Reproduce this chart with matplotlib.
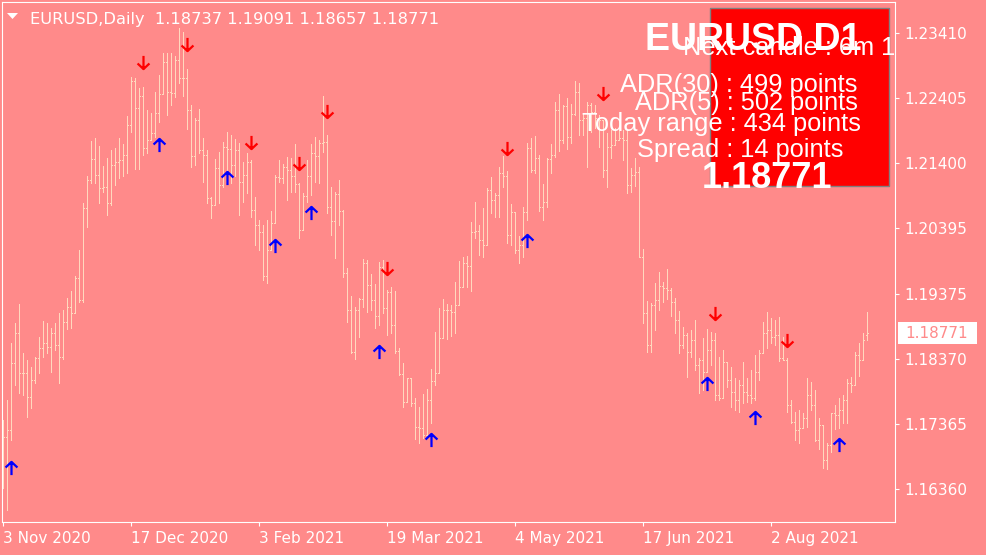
import matplotlib
matplotlib.use("Agg")
import matplotlib.pyplot as plt
import numpy as np
from matplotlib.patches import Rectangle, Polygon
from matplotlib.path import Path
from matplotlib.transforms import blended_transform_factory

W, H = 987, 555
BG = "#FF8A8A"
BAR_COLOR = "#FFD9BE"
UP_COLOR = "#0000FF"
DOWN_COLOR = "#FF0000"

SYMBOL = "EURUSD"
PERIOD = "Daily"

# ── daily OHLC, 3 Nov 2020 .. 3 Sep 2021 (one bar per trading day) ───────────
opens = [
    1.1665, 1.1716, 1.1727, 1.1831, 1.1877, 1.1815, 1.1815, 1.1778, 1.1805, 1.1838,
    1.1854, 1.1862, 1.1856, 1.1877, 1.1859, 1.1840, 1.1894, 1.1917, 1.1908, 1.1962,
    1.1928, 1.2070, 1.2114, 1.2146, 1.2121, 1.2101, 1.2103, 1.2078, 1.2137, 1.2142,
    1.2145, 1.2152, 1.2199, 1.2267, 1.2225, 1.2244, 1.2163, 1.2176, 1.2186, 1.2217,
    1.2247, 1.2296, 1.2250, 1.2248, 1.2299, 1.2271, 1.2271, 1.2222, 1.2151, 1.2207,
    1.2160, 1.2152, 1.2086, 1.2075, 1.2132, 1.2106, 1.2165, 1.2162, 1.2137, 1.2160,
    1.2111, 1.2121, 1.2142, 1.2067, 1.2044, 1.2033, 1.1965, 1.2005, 1.2047, 1.2118,
    1.2117, 1.2134, 1.2129, 1.2120, 1.2108, 1.2036, 1.2089, 1.2120, 1.2155, 1.2151,
    1.2171, 1.2172, 1.2072, 1.2050, 1.2092, 1.2066, 1.1970, 1.1913, 1.1848, 1.1913,
    1.1930, 1.1985, 1.1951, 1.1928, 1.1903, 1.1979, 1.1916, 1.1941, 1.1890, 1.1849,
    1.1814, 1.1770, 1.1808, 1.1769, 1.1732, 1.1730, 1.1720, 1.1774, 1.1803, 1.1815,
    1.1869, 1.1913, 1.1913, 1.1910, 1.1920, 1.1948, 1.1985, 1.1981, 1.2033, 1.2035,
    1.2021, 1.2013, 1.2098, 1.2083, 1.2091, 1.2125, 1.2120, 1.2029, 1.2064, 1.2005,
    1.2013, 1.2064, 1.2163, 1.2129, 1.2148, 1.2072, 1.2080, 1.2146, 1.2152, 1.2222,
    1.2176, 1.2228, 1.2180, 1.2216, 1.2250, 1.2207, 1.2210, 1.2230, 1.2219, 1.2210,
    1.2207, 1.2129, 1.2165, 1.2168, 1.2176, 1.2179, 1.2176, 1.2106, 1.2121, 1.2126,
    1.1995, 1.1908, 1.1859, 1.1920, 1.1928, 1.1950, 1.1947, 1.1944, 1.1925, 1.1897,
    1.1859, 1.1874, 1.1848, 1.1866, 1.1828, 1.1835, 1.1817, 1.1851, 1.1866, 1.1781,
    1.1777, 1.1832, 1.1805, 1.1786, 1.1774, 1.1797, 1.1786, 1.1781, 1.1777, 1.1817,
    1.1846, 1.1877, 1.1882, 1.1871, 1.1874, 1.1838, 1.1835, 1.1766, 1.1740, 1.1727,
    1.1730, 1.1746, 1.1781, 1.1766, 1.1712, 1.1735, 1.1681, 1.1704, 1.1753, 1.1750,
    1.1758, 1.1774, 1.1800, 1.1797, 1.1843, 1.1835, 1.18737,
]
highs = [
    1.1743, 1.1774, 1.1862, 1.1893, 1.1922, 1.1846, 1.1835, 1.1825, 1.1840, 1.1871,
    1.1896, 1.1893, 1.1885, 1.1893, 1.1908, 1.1913, 1.1931, 1.1942, 1.1965, 1.2005,
    1.2078, 1.2120, 1.2174, 1.2179, 1.2166, 1.2135, 1.2148, 1.2160, 1.2163, 1.2179,
    1.2169, 1.2213, 1.2273, 1.2271, 1.2256, 1.2257, 1.2222, 1.2217, 1.2250, 1.2276,
    1.2310, 1.2310, 1.2310, 1.2305, 1.2349, 1.2343, 1.2285, 1.2230, 1.2210, 1.2223,
    1.2179, 1.2160, 1.2087, 1.2146, 1.2157, 1.2172, 1.2188, 1.2183, 1.2177, 1.2171,
    1.2142, 1.2155, 1.2145, 1.2087, 1.2052, 1.2044, 1.2052, 1.2066, 1.2121, 1.2145,
    1.2138, 1.2149, 1.2148, 1.2169, 1.2109, 1.2094, 1.2145, 1.2169, 1.2180, 1.2176,
    1.2244, 1.2183, 1.2103, 1.2095, 1.2114, 1.2067, 1.1978, 1.1934, 1.1917, 1.1931,
    1.1992, 1.1990, 1.1968, 1.1953, 1.1987, 1.1990, 1.1944, 1.1948, 1.1942, 1.1854,
    1.1831, 1.1808, 1.1808, 1.1777, 1.1763, 1.1783, 1.1791, 1.1821, 1.1879, 1.1916,
    1.1930, 1.1922, 1.1920, 1.1956, 1.1989, 1.1995, 1.1996, 1.2049, 1.2080, 1.2044,
    1.2070, 1.2101, 1.2118, 1.2094, 1.2134, 1.2151, 1.2128, 1.2077, 1.2064, 1.2027,
    1.2072, 1.2171, 1.2179, 1.2182, 1.2152, 1.2108, 1.2148, 1.2169, 1.2234, 1.2247,
    1.2230, 1.2240, 1.2231, 1.2267, 1.2264, 1.2217, 1.2234, 1.2233, 1.2230, 1.2214,
    1.2207, 1.2186, 1.2191, 1.2194, 1.2203, 1.2191, 1.2191, 1.2132, 1.2148, 1.2134,
    1.2007, 1.1927, 1.1924, 1.1955, 1.1971, 1.1956, 1.1976, 1.1947, 1.1931, 1.1911,
    1.1886, 1.1877, 1.1882, 1.1897, 1.1839, 1.1869, 1.1883, 1.1879, 1.1877, 1.1840,
    1.1851, 1.1832, 1.1825, 1.1808, 1.1805, 1.1832, 1.1808, 1.1820, 1.1843, 1.1851,
    1.1894, 1.1910, 1.1900, 1.1897, 1.1902, 1.1871, 1.1839, 1.1774, 1.1755, 1.1758,
    1.1753, 1.1808, 1.1801, 1.1789, 1.1746, 1.1735, 1.1707, 1.1753, 1.1766, 1.1777,
    1.1781, 1.1806, 1.1809, 1.1848, 1.1862, 1.1877, 1.19091,
]
lows = [
    1.1638, 1.1604, 1.1712, 1.1797, 1.1784, 1.1781, 1.1747, 1.1761, 1.1800, 1.1815,
    1.1840, 1.1846, 1.1817, 1.1851, 1.1800, 1.1837, 1.1883, 1.1885, 1.1908, 1.1925,
    1.1925, 1.2041, 1.2109, 1.2109, 1.2078, 1.2095, 1.2060, 1.2075, 1.2106, 1.2117,
    1.2120, 1.2125, 1.2188, 1.2131, 1.2131, 1.2152, 1.2155, 1.2176, 1.2180, 1.2203,
    1.2247, 1.2214, 1.2230, 1.2242, 1.2264, 1.2244, 1.2193, 1.2134, 1.2137, 1.2155,
    1.2111, 1.2078, 1.2055, 1.2075, 1.2078, 1.2103, 1.2126, 1.2109, 1.2120, 1.2060,
    1.2080, 1.2094, 1.2057, 1.2013, 1.2005, 1.1959, 1.1955, 1.2005, 1.2047, 1.2111,
    1.2109, 1.2083, 1.2095, 1.2095, 1.2024, 1.2036, 1.2080, 1.2091, 1.2111, 1.2109,
    1.2157, 1.2063, 1.2029, 1.1993, 1.2044, 1.1964, 1.1894, 1.1846, 1.1837, 1.1871,
    1.1917, 1.1910, 1.1913, 1.1885, 1.1890, 1.1908, 1.1874, 1.1877, 1.1846, 1.1812,
    1.1763, 1.1770, 1.1764, 1.1713, 1.1707, 1.1715, 1.1720, 1.1738, 1.1797, 1.1815,
    1.1869, 1.1868, 1.1873, 1.1877, 1.1920, 1.1948, 1.1948, 1.1942, 1.2024, 1.1998,
    1.1995, 1.2013, 1.2063, 1.2057, 1.2057, 1.2103, 1.2016, 1.2013, 1.2001, 1.1985,
    1.1995, 1.2052, 1.2126, 1.2125, 1.2066, 1.2052, 1.2072, 1.2125, 1.2149, 1.2159,
    1.2171, 1.2162, 1.2171, 1.2214, 1.2183, 1.2183, 1.2134, 1.2188, 1.2194, 1.2165,
    1.2118, 1.2103, 1.2148, 1.2168, 1.2176, 1.2145, 1.2094, 1.2095, 1.2104, 1.1995,
    1.1893, 1.1848, 1.1848, 1.1882, 1.1913, 1.1925, 1.1930, 1.1903, 1.1877, 1.1846,
    1.1854, 1.1809, 1.1840, 1.1820, 1.1784, 1.1789, 1.1817, 1.1828, 1.1774, 1.1774,
    1.1777, 1.1794, 1.1763, 1.1758, 1.1755, 1.1769, 1.1770, 1.1769, 1.1774, 1.1805,
    1.1846, 1.1854, 1.1862, 1.1859, 1.1834, 1.1835, 1.1755, 1.1738, 1.1712, 1.1707,
    1.1730, 1.1732, 1.1758, 1.1710, 1.1698, 1.1669, 1.1667, 1.1693, 1.1729, 1.1730,
    1.1738, 1.1738, 1.1786, 1.1797, 1.1811, 1.1835, 1.18657,
]
closes = [
    1.1716, 1.1727, 1.1831, 1.1877, 1.1815, 1.1815, 1.1778, 1.1805, 1.1838, 1.1854,
    1.1862, 1.1856, 1.1877, 1.1859, 1.1840, 1.1894, 1.1917, 1.1908, 1.1962, 1.1928,
    1.2070, 1.2114, 1.2146, 1.2121, 1.2101, 1.2103, 1.2078, 1.2137, 1.2142, 1.2145,
    1.2152, 1.2199, 1.2267, 1.2225, 1.2244, 1.2163, 1.2176, 1.2186, 1.2217, 1.2247,
    1.2296, 1.2250, 1.2248, 1.2299, 1.2271, 1.2271, 1.2222, 1.2151, 1.2207, 1.2160,
    1.2152, 1.2086, 1.2075, 1.2132, 1.2106, 1.2165, 1.2162, 1.2137, 1.2160, 1.2111,
    1.2121, 1.2142, 1.2067, 1.2044, 1.2033, 1.1965, 1.2005, 1.2047, 1.2118, 1.2117,
    1.2134, 1.2129, 1.2120, 1.2108, 1.2036, 1.2089, 1.2120, 1.2155, 1.2151, 1.2171,
    1.2172, 1.2072, 1.2050, 1.2092, 1.2066, 1.1970, 1.1913, 1.1848, 1.1913, 1.1930,
    1.1985, 1.1951, 1.1928, 1.1903, 1.1979, 1.1916, 1.1941, 1.1890, 1.1849, 1.1814,
    1.1770, 1.1808, 1.1769, 1.1732, 1.1730, 1.1720, 1.1774, 1.1803, 1.1815, 1.1869,
    1.1913, 1.1913, 1.1910, 1.1920, 1.1948, 1.1985, 1.1981, 1.2033, 1.2035, 1.2021,
    1.2013, 1.2098, 1.2083, 1.2091, 1.2125, 1.2120, 1.2029, 1.2064, 1.2005, 1.2013,
    1.2064, 1.2163, 1.2129, 1.2148, 1.2072, 1.2080, 1.2146, 1.2152, 1.2222, 1.2176,
    1.2228, 1.2180, 1.2216, 1.2250, 1.2207, 1.2210, 1.2230, 1.2219, 1.2210, 1.2207,
    1.2129, 1.2165, 1.2168, 1.2176, 1.2179, 1.2176, 1.2106, 1.2121, 1.2126, 1.1995,
    1.1908, 1.1859, 1.1920, 1.1928, 1.1950, 1.1947, 1.1944, 1.1925, 1.1897, 1.1859,
    1.1874, 1.1848, 1.1866, 1.1828, 1.1835, 1.1817, 1.1851, 1.1866, 1.1781, 1.1777,
    1.1832, 1.1805, 1.1786, 1.1774, 1.1797, 1.1786, 1.1781, 1.1777, 1.1817, 1.1846,
    1.1877, 1.1882, 1.1871, 1.1874, 1.1838, 1.1835, 1.1766, 1.1740, 1.1727, 1.1730,
    1.1746, 1.1781, 1.1766, 1.1712, 1.1735, 1.1681, 1.1704, 1.1753, 1.1750, 1.1758,
    1.1774, 1.1800, 1.1797, 1.1843, 1.1835, 1.1866, 1.18771,
]

# arrow signals: bar index and price level of the arrow
up_bars = [2, 39, 56, 68, 77, 94, 107, 131, 176, 188, 209]
up_prices = [1.1669, 1.2168, 1.2117, 1.2012, 1.2063, 1.1848, 1.1712, 1.2019, 1.1798, 1.1746, 1.1704]
down_bars = [35, 46, 62, 74, 81, 96, 126, 150, 178, 196]
down_prices = [1.2296, 1.2324, 1.2172, 1.2140, 1.2220, 1.1978, 1.2163, 1.2248, 1.1908, 1.1866]

PRICE_TICKS = [1.23410, 1.22405, 1.21400, 1.20395, 1.19375, 1.18370, 1.17365, 1.16360]
DATE_LABELS = ["3 Nov 2020", "17 Dec 2020", "3 Feb 2021", "19 Mar 2021",
               "4 May 2021", "17 Jun 2021", "2 Aug 2021"]
DATE_STEP = 32  # bars between date labels

# info panel
ADR30, ADR5, TODAY_RANGE, SPREAD = 499, 502, 434, 14
NEXT_CANDLE = "6m 1"


def px(x, y):
    """pixel position (from top-left) -> figure fraction"""
    return x / W, 1 - y / H


fig = plt.figure(figsize=(W / 100, H / 100), dpi=100, facecolor=BG)
ax = fig.add_axes([2 / W, 1 - 522 / H, 893 / W, 520 / H], facecolor=BG)

# OHLC bars: 1px stem, 1px open tick left, 1px close tick right
x = np.arange(len(closes))
bar_kw = dict(color=BAR_COLOR, lw=0.7, antialiased=False, capstyle="butt")
ax.vlines(x, lows, highs, **bar_kw)
ax.hlines(opens, x - 0.25, x, **bar_kw)
ax.hlines(closes, x, x + 0.25, **bar_kw)

up_arrow = Path([(0, -1), (0, 1), (-0.9, 0.15), (0, 1), (0.9, 0.15)],
                [Path.MOVETO, Path.LINETO, Path.MOVETO, Path.LINETO, Path.LINETO])
down_arrow = Path([(0, 1), (0, -1), (-0.9, -0.15), (0, -1), (0.9, -0.15)],
                  [Path.MOVETO, Path.LINETO, Path.MOVETO, Path.LINETO, Path.LINETO])
ax.plot(up_bars, up_prices, ls="none", marker=up_arrow, ms=9.5,
        mfc="none", mec=UP_COLOR, mew=1.6)
ax.plot(down_bars, down_prices, ls="none", marker=down_arrow, ms=9.5,
        mfc="none", mec=DOWN_COLOR, mew=1.6)

ax.set_xlim(-0.25, 223)
ax.set_ylim(1.15850, 1.23889)

for s in ax.spines.values():
    s.set_color("white")
    s.set_linewidth(0.8)

ax.yaxis.tick_right()
ax.set_yticks(PRICE_TICKS)
ax.set_yticklabels([f"{p:.5f}" for p in PRICE_TICKS])
ax.set_xticks([i * DATE_STEP for i in range(len(DATE_LABELS))])
ax.set_xticklabels(DATE_LABELS)
for lbl in ax.get_xticklabels():
    lbl.set_horizontalalignment("left")
ax.tick_params(axis="both", colors="white", labelcolor="white", length=3,
               width=0.8, labelsize=11, pad=4)
ax.tick_params(axis="x", pad=3.5)

# current price tag on the price scale
last = closes[-1]
tr = blended_transform_factory(fig.transFigure, ax.transData)
fig.add_artist(Rectangle((898 / W, last - 0.0017), 79 / W, 0.0034, transform=tr,
                         facecolor="white", edgecolor="none", clip_on=False))
fig.text(905 / W, last, f"{last:.5f}", transform=tr, color=BG, fontsize=11,
         va="center", ha="left")

# header
fig.add_artist(Polygon([px(7, 13), px(18, 13), px(12.5, 19)], closed=True,
                       transform=fig.transFigure, facecolor="white", edgecolor="none"))
fig.text(*px(30, 24),
         f"{SYMBOL},{PERIOD}  {opens[-1]:.5f} {highs[-1]:.5f} {lows[-1]:.5f} {closes[-1]:.5f}",
         color="white", fontsize=11.7, va="baseline", ha="left")

# info panel
x0, y0 = px(710, 186)
fig.add_artist(Rectangle((x0, y0), 179 / W, 178 / H, transform=fig.transFigure,
                         facecolor="#FF0000", edgecolor="#808080", lw=1))

PANEL_FONT = ["Liberation Sans", "DejaVu Sans"]
fig.text(*px(645, 50), f"{SYMBOL} D1", color="white", fontsize=27,
         fontweight="bold", family=PANEL_FONT, va="baseline", ha="left")
t = fig.text(*px(683, 55), f"Next candle : {NEXT_CANDLE}", color="white", fontsize=18.3,
             family=PANEL_FONT, va="baseline", ha="left")
t.set_clip_box(ax.bbox)
t.set_clip_on(True)
fig.text(*px(620, 92), f"ADR(30) : {ADR30} points", color="white", fontsize=18.3,
         family=PANEL_FONT, va="baseline", ha="left")
fig.text(*px(635, 110), f"ADR(5) : {ADR5} points", color="white", fontsize=18.3,
         family=PANEL_FONT, va="baseline", ha="left")
fig.text(*px(582, 131), f"Today range : {TODAY_RANGE} points", color="white",
         fontsize=18.3, family=PANEL_FONT, va="baseline", ha="left")
fig.text(*px(637, 157), f"Spread : {SPREAD} points", color="white", fontsize=18.3,
         family=PANEL_FONT, va="baseline", ha="left")
fig.text(*px(702, 188), f"{last:.5f}", color="white", fontsize=26,
         fontweight="bold", family=PANEL_FONT, va="baseline", ha="left")

fig.savefig("out.png", dpi=100, facecolor=BG)
